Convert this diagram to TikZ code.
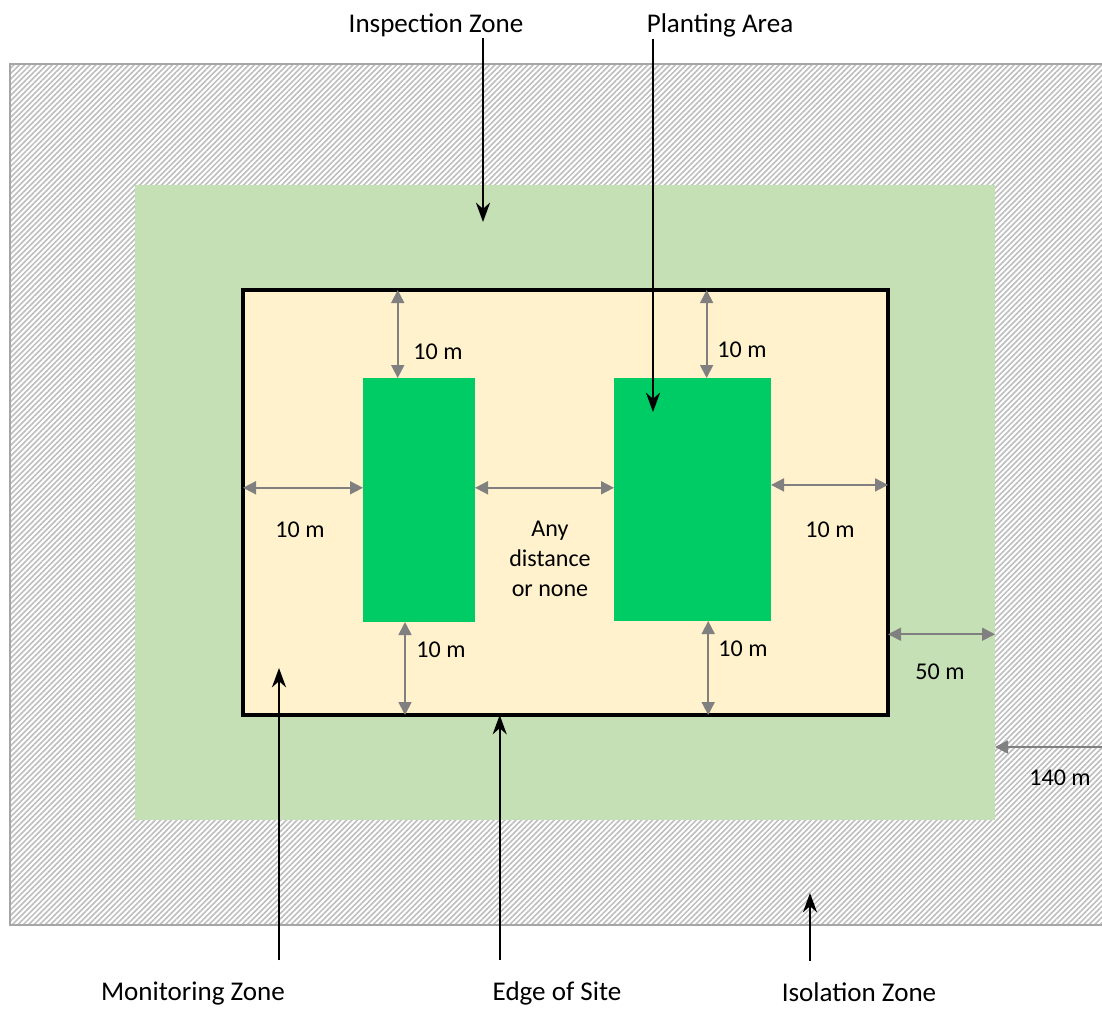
\documentclass[tikz,border=0pt]{standalone}
\usepackage{fontspec}
\setmainfont{Carlito}
\definecolor{zonegreen}{HTML}{C5E0B4}
\definecolor{sitecream}{HTML}{FFF2CC}
\definecolor{plotgreen}{HTML}{00CC66}
\definecolor{dimgray}{HTML}{808080}
\definecolor{hatchgray}{HTML}{BDBDBD}
\definecolor{bordergray}{HTML}{A6A6A6}
\usetikzlibrary{arrows.meta,positioning,calc,fit,patterns.meta}

\begin{document}
\begin{tikzpicture}[
  x=0.02cm, y=-0.02cm,
  every node/.style={font=\fontsize{15.4}{18}\selectfont},
  zonebox/.style={inner sep=0pt, outer sep=0pt},
  zonelabel/.style={anchor=base, inner sep=1pt},
  bottomlabel/.style={zonelabel, outer ysep=11pt},
  dimlabel/.style={font=\fontsize{13.7}{17}\selectfont, align=center},
  dimline/.style={draw=dimgray, line width=1pt,
                  {Triangle[length=7.4pt,width=7.4pt]}-{Triangle[length=7.4pt,width=7.4pt]}},
  dimhalf/.style={draw=dimgray, line width=1pt, -{Triangle[length=7.4pt,width=7.4pt]}},
  pointer/.style={draw=black, line width=1.2pt, -{Stealth[length=11pt,width=8pt,inset=3.5pt]}},
]
  \useasboundingbox (0,0) rectangle (1102,1008);

  % Zones
  \node[zonebox, fit={(10,64) (1130,925)}, draw=bordergray, line width=1.1pt,
        pattern={Lines[angle=45,distance=2.2pt,line width=0.9pt]}, pattern color=hatchgray] (isolation) {};
  \node[zonebox, fit={(135,185) (995,820)}, fill=zonegreen] (inspect) {};
  \node[zonebox, fit={(243,290) (888,715)}, fill=sitecream, draw=black, line width=2.3pt] (site) {};

  % Planting plots
  \node[zonebox, fit={(363,378) (475,622)}, fill=plotgreen] (plotA) {};
  \node[zonebox, fit={(614,378) (771,621)}, fill=plotgreen] (plotB) {};

  % Gaps above and below the plots
  \coordinate (gapAtop) at ($(plotA.north west)!0.31!(plotA.north east)$);
  \coordinate (gapBtop) at ($(plotB.north west)!0.59!(plotB.north east)$);
  \coordinate (gapAbot) at ($(plotA.south west)!0.375!(plotA.south east)$);
  \coordinate (gapBbot) at ($(plotB.south west)!0.60!(plotB.south east)$);
  \draw[dimline] (gapAtop |- site.north) -- (gapAtop);
  \draw[dimline] (gapBtop |- site.north) -- (gapBtop);
  \draw[dimline] (gapAbot) -- (gapAbot |- site.south);
  \draw[dimline] (gapBbot) -- (gapBbot |- site.south);
  \node[dimlabel] (lblAtop) at (438,352) {10 m};
  \node[dimlabel] (lblBtop) at (742,350) {10 m};
  \node[dimlabel] (lblAbot) at (441,650) {10 m};
  \node[dimlabel] (lblBbot) at (743,649) {10 m};

  % Gaps beside the plots
  \coordinate (gapAside) at ($(plotA.north west)!0.45!(plotA.south west)$);
  \coordinate (gapmid) at ($(plotA.north east)!0.45!(plotA.south east)$);
  \coordinate (gapBside) at ($(plotB.north east)!0.44!(plotB.south east)$);
  \draw[dimline] (site.west |- gapAside) -- (gapAside);
  \draw[dimline] (gapmid) -- (gapmid -| plotB.west);
  \draw[dimline] (gapBside) -- (gapBside -| site.east);
  \node[dimlabel] (lblAside) at (300,530) {10 m};
  \node[dimlabel] (lblmid) at (550,559) {Any\\distance\\or none};
  \node[dimlabel] (lblBside) at (830,530) {10 m};

  % Zone widths
  \coordinate (gapinspect) at ($(site.north east)!0.81!(site.south east)$);
  \coordinate (farright) at (1102,747);
  \draw[dimline] (gapinspect) -- (gapinspect -| inspect.east);
  \draw[dimhalf] (farright) -- (farright -| inspect.east);
  \node[dimlabel] (lblinspect) at (940,672) {50 m};
  \node[dimlabel] (lblisolation) at (1060,778) {140 m};

  % Labels and pointers
  \node[zonelabel] (inspectlbl) at (436,32) {Inspection Zone};
  \node[zonelabel] (plantlbl) at (720,32) {Planting Area};
  \node[bottomlabel] (monitorlbl) at (193,1000) {Monitoring Zone};
  \node[bottomlabel] (edgelbl) at (557,1000) {Edge of Site};
  \node[bottomlabel] (isolatelbl) at (859,1001) {Isolation Zone};
  \coordinate (inspecttip) at (483,222);
  \coordinate (planttip) at (653,412);
  \coordinate (monitortip) at (279,668);
  \coordinate (edgetip) at ($(site.south west)!0.398!(site.south east)$);
  \coordinate (isolatetip) at (810,893);
  \draw[pointer] (inspecttip |- inspectlbl.south) -- (inspecttip);
  \draw[pointer] (planttip |- plantlbl.south) -- (planttip);
  \draw[pointer] (monitortip |- monitorlbl.north) -- (monitortip);
  \draw[pointer] (edgetip |- edgelbl.north) -- (edgetip);
  \draw[pointer] (isolatetip |- isolatelbl.north) -- (isolatetip);
\end{tikzpicture}
\end{document}
